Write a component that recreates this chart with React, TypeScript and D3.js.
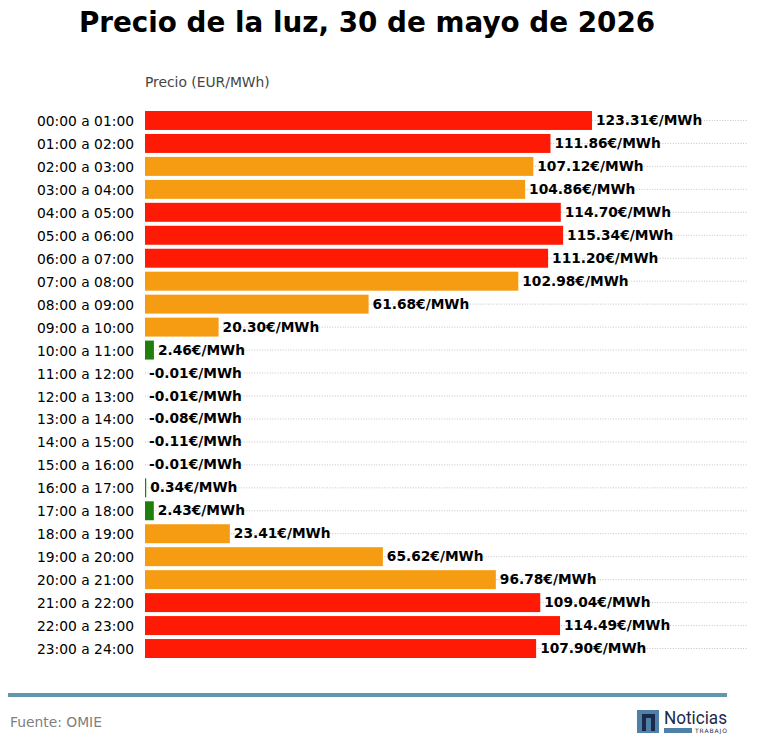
import { useEffect, useRef } from 'react'
import * as d3 from 'd3'

const hours = [
  '00:00 a 01:00', '01:00 a 02:00', '02:00 a 03:00', '03:00 a 04:00',
  '04:00 a 05:00', '05:00 a 06:00', '06:00 a 07:00', '07:00 a 08:00',
  '08:00 a 09:00', '09:00 a 10:00', '10:00 a 11:00', '11:00 a 12:00',
  '12:00 a 13:00', '13:00 a 14:00', '14:00 a 15:00', '15:00 a 16:00',
  '16:00 a 17:00', '17:00 a 18:00', '18:00 a 19:00', '19:00 a 20:00',
  '20:00 a 21:00', '21:00 a 22:00', '22:00 a 23:00', '23:00 a 24:00',
]

const prices = [
  123.31, 111.86, 107.12, 104.86, 114.7, 115.34, 111.2, 102.98,
  61.68, 20.3, 2.46, -0.01, -0.01, -0.08, -0.11, -0.01,
  0.34, 2.43, 23.41, 65.62, 96.78, 109.04, 114.49, 107.9,
]

const width = 758
const height = 755
const font = '"DejaVu Sans", sans-serif'
const textSize = 13.85

export default function App() {
  const svgRef = useRef<SVGSVGElement>(null)

  useEffect(() => {
    if (!svgRef.current) return

    const svg = d3.select(svgRef.current)
    svg.selectAll('*').remove()

    const x = d3.scaleLinear().domain([0, 123.31]).range([145, 592])
    const y = d3.scaleBand<string>()
      .domain(hours)
      .range([109, 660])
      .paddingInner(4 / 23)
      .paddingOuter(2 / 23)
    const color = d3.scaleThreshold<number, string>()
      .domain([10, 107.5])
      .range(['#1f7f0a', '#f59c12', '#ff1a05'])
    const rows = hours.map((h, i) => ({ hour: h, price: prices[i] }))
    const mid = (h: string) => (y(h) || 0) + y.bandwidth() / 2

    svg.append('text')
      .attr('x', 367)
      .attr('y', 32)
      .attr('text-anchor', 'middle')
      .attr('font-size', 27.8)
      .attr('font-weight', 'bold')
      .attr('fill', '#000')
      .text('Precio de la luz, 30 de mayo de 2026')

    svg.append('text')
      .attr('x', 145)
      .attr('y', 87)
      .attr('font-size', textSize)
      .attr('fill', '#444')
      .text('Precio (EUR/MWh)')

    // Grid lines
    svg.selectAll('.grid')
      .data(rows)
      .enter().append('line')
      .attr('class', 'grid')
      .attr('x1', 145)
      .attr('x2', 748)
      .attr('y1', d => mid(d.hour))
      .attr('y2', d => mid(d.hour))
      .attr('stroke', '#b5b5b5')
      .attr('stroke-width', 0.8)
      .attr('stroke-dasharray', '1,1.6')

    // Y axis
    const axis = svg.append('g')
      .attr('transform', 'translate(145,0)')
      .call(d3.axisLeft(y).tickSize(0).tickPadding(11))
    axis.select('.domain').remove()
    axis.selectAll('text')
      .attr('font-family', font)
      .attr('font-size', textSize)
      .attr('dy', '0.4em')
      .attr('fill', '#000')

    // Bars
    svg.selectAll('.bar')
      .data(rows.filter(d => d.price > 0))
      .enter().append('rect')
      .attr('class', 'bar')
      .attr('x', x(0))
      .attr('y', d => y(d.hour) || 0)
      .attr('width', d => x(d.price) - x(0))
      .attr('height', y.bandwidth())
      .attr('fill', d => color(d.price))

    // Value labels
    svg.selectAll('.label')
      .data(rows)
      .enter().append('text')
      .attr('class', 'label')
      .attr('x', d => x(Math.max(d.price, 0)) + 4)
      .attr('y', d => mid(d.hour))
      .attr('dy', '0.33em')
      .attr('font-size', 13.75)
      .attr('font-weight', 'bold')
      .attr('fill', '#000')
      .text(d => `${d.price.toFixed(2)}€/MWh`)

    // Footer
    svg.append('rect')
      .attr('x', 8)
      .attr('y', 693)
      .attr('width', 719)
      .attr('height', 4)
      .attr('fill', '#6096ae')

    svg.append('text')
      .attr('x', 10)
      .attr('y', 727)
      .attr('font-size', textSize)
      .attr('fill', '#808080')
      .text('Fuente: OMIE')

    // Logo
    const logo = svg.append('g')
    logo.append('rect')
      .attr('x', 637)
      .attr('y', 710)
      .attr('width', 22)
      .attr('height', 23)
      .attr('fill', '#4f81a8')
    logo.append('path')
      .attr('d', 'M642 731V714H655V731H651V718H646V731Z')
      .attr('fill', '#1b2a4a')
    logo.append('text')
      .attr('x', 664)
      .attr('y', 724)
      .attr('font-family', '"Roboto", sans-serif')
      .attr('font-size', 18)
      .attr('textLength', 63)
      .attr('lengthAdjust', 'spacingAndGlyphs')
      .attr('fill', '#1b2a4a')
      .text('Noticias')
    logo.append('rect')
      .attr('x', 664)
      .attr('y', 728)
      .attr('width', 28)
      .attr('height', 5)
      .attr('fill', '#4f81a8')
    logo.append('text')
      .attr('x', 695)
      .attr('y', 733)
      .attr('font-size', 6)
      .attr('textLength', 32)
      .attr('fill', '#1b2a4a')
      .text('TRABAJO')
  }, [])

  return (
    <svg
      ref={svgRef}
      width={width}
      height={height}
      fontFamily={font}
      style={{ position: 'absolute', left: 0, top: 0, background: '#fff' }}
    />
  )
}
